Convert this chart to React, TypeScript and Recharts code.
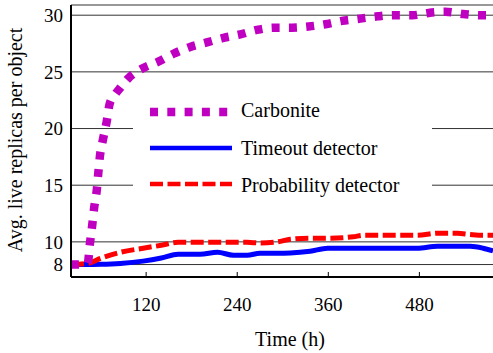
import React from 'react';
import { LineChart, Line, XAxis, YAxis, CartesianGrid, Legend, Label } from 'recharts';

const carboniteTimes = [21, 30, 43, 46, 49, 51.5, 55, 57, 59, 63, 68, 72, 78, 86, 96, 115, 136, 156, 178, 200, 222, 244, 266, 288, 312, 334, 356, 378, 402, 425, 446, 471, 492, 514, 538, 560, 577];
const carboniteValues = [8, 8, 8.1, 9.9, 11.5, 13, 14.6, 16.1, 17.5, 19, 20.6, 22.2, 22.9, 23.6, 24.4, 25.3, 25.9, 26.6, 27.2, 27.6, 28, 28.3, 28.7, 28.9, 28.9, 29.0, 29.2, 29.5, 29.7, 29.9, 30, 30, 30.2, 30.3, 30.1, 30, 30];

const detectorTimes = [21, 43, 60, 86, 116, 140, 162, 191, 214, 235, 253, 270, 293, 310, 336, 359, 393, 406, 438, 477, 504, 530, 547, 564, 577];
const timeoutValues = [8.0, 8.0, 8.02, 8.1, 8.3, 8.57, 8.9, 8.9, 9.08, 8.82, 8.82, 9.0, 9.0, 9.02, 9.17, 9.44, 9.44, 9.44, 9.44, 9.44, 9.61, 9.61, 9.61, 9.44, 9.2];
const probabilityValues = [8.0, 8.1, 8.55, 9.08, 9.44, 9.7, 9.96, 9.96, 9.96, 9.96, 9.96, 9.9, 10.0, 10.23, 10.32, 10.32, 10.45, 10.58, 10.58, 10.58, 10.76, 10.76, 10.65, 10.58, 10.58];

const xTicks = [120, 240, 360, 480];
const yTicks = [8, 10, 15, 20, 25, 30];
const seriesNames = ['Carbonite', 'Timeout detector', 'Probability detector'];

const MAGENTA = '#c000c0';
const BLUE = '#0000ff';
const RED = '#ff0000';
const FONT = 'Liberation Serif, DejaVu Serif, serif';
const textStyle = { fontFamily: FONT };

const carboniteData = carboniteTimes.map((t, i) => ({ t, v: carboniteValues[i] }));
const timeoutData = detectorTimes.map((t, i) => ({ t, v: timeoutValues[i] }));
const probabilityData = detectorTimes.map((t, i) => ({ t, v: probabilityValues[i] }));

const renderLegend = () => (
  <svg width={299} height={113} style={{ display: 'block', background: '#fff' }}>
    <line x1={17} y1={20} x2={95} y2={20} stroke={MAGENTA} strokeWidth={8.5} strokeDasharray="8 9.3" />
    <text x={108} y={25} style={textStyle} fontSize={20} fill="#000">{seriesNames[0]}</text>
    <line x1={17} y1={56} x2={99} y2={56} stroke={BLUE} strokeWidth={4.5} />
    <text x={108} y={63} style={textStyle} fontSize={20} fill="#000">{seriesNames[1]}</text>
    <line x1={17} y1={92} x2={99} y2={92} stroke={RED} strokeWidth={4.5} strokeDasharray="13 4.5" />
    <text x={108} y={100} style={textStyle} fontSize={20} fill="#000">{seriesNames[2]}</text>
  </svg>
);

export default function App() {
  return (
    <div style={{ position: 'absolute', left: 0, top: 0, width: 493, height: 353, background: '#fff', overflow: 'hidden', fontFamily: FONT }}>
      <LineChart width={493} height={353} margin={{ top: 5, right: 0, bottom: 0, left: 0 }} style={textStyle}>
        <CartesianGrid vertical={false} stroke="#333" strokeWidth={1} />
        <XAxis
          type="number"
          dataKey="t"
          domain={[21, 577]}
          ticks={xTicks}
          interval={0}
          allowDataOverflow
          height={76}
          tickSize={-5}
          tickMargin={26}
          axisLine={{ stroke: '#000', strokeWidth: 2 }}
          tickLine={{ stroke: '#000', strokeWidth: 1 }}
          tick={{ fill: '#000', fontSize: 19, style: textStyle }}
          label={
            <Label
              content={() => (
                <text x={290} y={346} textAnchor="middle" style={textStyle} fontSize={20} fill="#000">Time (h)</text>
              )}
            />
          }
        />
        <XAxis
          xAxisId="top"
          orientation="top"
          type="number"
          dataKey="t"
          domain={[21, 577]}
          ticks={xTicks}
          interval={0}
          allowDataOverflow
          height={0}
          tickSize={-5}
          tick={false}
          axisLine={{ stroke: '#000', strokeWidth: 2 }}
          tickLine={{ stroke: '#000', strokeWidth: 1 }}
        />
        <YAxis
          type="number"
          domain={[6.9, 30.9]}
          ticks={yTicks}
          interval={0}
          allowDataOverflow
          width={71}
          tickSize={0}
          tickMargin={8}
          axisLine={{ stroke: '#000', strokeWidth: 2 }}
          tickLine={false}
          tick={{ fill: '#000', fontSize: 19, style: textStyle }}
          label={
            <Label
              content={() => (
                <text transform="translate(22,140) rotate(-90)" textAnchor="middle" style={textStyle} fontSize={20} fill="#000">Avg. live replicas per object</text>
              )}
            />
          }
        />
        <Legend
          layout="vertical"
          align="center"
          verticalAlign="middle"
          content={renderLegend}
          wrapperStyle={{ left: 133, top: 92, width: 299, height: 113 }}
        />
        <Line data={timeoutData} dataKey="v" name={seriesNames[1]} type="monotone" stroke={BLUE} strokeWidth={5} dot={false} isAnimationActive={false} />
        <Line data={probabilityData} dataKey="v" name={seriesNames[2]} type="monotone" stroke={RED} strokeWidth={5} strokeDasharray="13 4.5" dot={false} isAnimationActive={false} />
        <Line data={carboniteData} dataKey="v" name={seriesNames[0]} type="monotone" stroke={MAGENTA} strokeWidth={8.5} strokeDasharray="8 9.3" dot={false} isAnimationActive={false} />
      </LineChart>
    </div>
  );
}
